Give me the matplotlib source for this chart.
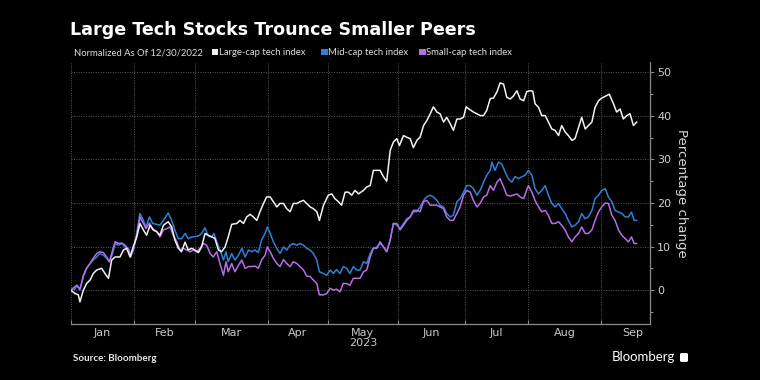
import matplotlib
matplotlib.use("Agg")
import matplotlib.pyplot as plt
from matplotlib.patches import Rectangle, FancyBboxPatch
from matplotlib.ticker import FixedLocator, MultipleLocator

# ---------------- data (x = trading days since 2022-12-30) ----------------
large_day = [0, 1.35, 2.4, 2.9, 4.0, 5.0, 6.1, 7.1, 8.2, 9.75, 10.8, 11.9, 12.9, 14.0, 15.5, 16.6, 17.6, 18.7,
             19.7, 20.8, 21.8, 22.9, 23.9, 25.0, 26.0, 27.1, 28.1, 29.2, 30.7, 31.8, 32.8, 33.9, 34.9, 36.0,
             37.0, 38.1, 39.1, 40.2, 41.2, 42.3, 43.3, 44.4, 45.4, 46.5, 47.5, 48.6, 49.6, 50.7, 52.3, 53.3,
             54.4, 55.4, 56.5, 57.5, 58.6, 59.6, 60.7, 61.7, 62.8, 63.8, 64.9, 65.9, 67.0, 68.0, 69.1, 70.1,
             71.2, 72.2, 73.3, 74.3, 75.4, 76.4, 77.5, 78.3, 79.6, 81.1, 82.2, 83.2, 84.3, 85.3, 86.4, 87.4,
             88.5, 89.5, 90.6, 92.2, 93.2, 94.3, 95.3, 96.4, 97.4, 98.5, 99.5, 100.6, 101.6, 102.7, 103.5,
             104.8, 105.8, 106.9, 107.9, 109.0, 110.0, 111.1, 112.1, 113.2, 114.2, 115.3, 116.3, 117.4, 118.4,
             119.5, 120.5, 121.6, 122.6, 123.7, 124.5, 125.8, 126.8, 127.9, 128.9, 130.0, 131.0, 132.1, 133.1,
             134.2, 135.2, 136.3, 137.3, 138.4, 139.4, 140.5, 141.5, 142.6, 143.6, 144.6, 145.5, 146.2, 147.3,
             148.3, 149.4, 150.4, 151.5, 152.5, 153.6, 154.6, 155.7, 156.7, 157.8, 158.8, 159.9, 160.9, 162.0,
             163.0, 164.1, 165.1, 166.2, 167.2, 168.8, 169.6, 170.9, 171.9, 173.0, 174.0, 175.1, 176.1, 177.2,
             178.2]
large_val = [0, -0.8, -1.1, -2.7, 0, 1.5, 2.3, 3.8, 4.6, 5.0, 3.8, 2.7, 6.9, 7.6, 7.6, 9.2, 9.6, 7.6,
             10.0, 12.2, 15.3, 13.8, 12.6, 14.9, 13.8, 13.4, 12.6, 14.9, 15.7, 14.5, 11.5, 9.6, 8.8, 11.0,
             9.2, 9.6, 9.2, 8.6, 9.9, 13.0, 12.6, 12.2, 11.9, 9.2, 8.8, 9.9, 12.2, 15.1, 15.3, 16.0,
             15.3, 16.8, 17.4, 16.8, 16.0, 18.0, 19.9, 21.4, 21.4, 20.3, 19.1, 19.9, 19.9, 18.7, 18.0, 19.9,
             19.9, 20.3, 20.6, 19.9, 19.1, 18.7, 18.0, 16.0, 19.5, 21.8, 22.1, 21.0, 20.3, 19.5, 22.5, 22.5,
             21.8, 22.9, 22.1, 22.9, 23.7, 24.0, 27.5, 27.5, 27.5, 26.0, 25.0, 32.1, 34.0, 34.8, 33.2,
             35.5, 35.1, 34.8, 32.7, 34.4, 35.1, 37.8, 38.9, 40.5, 42.1, 40.9, 40.5, 38.6, 39.7,
             38.2, 36.7, 39.3, 39.3, 39.7, 42.1, 41.4, 40.9, 40.5, 40.1, 40.1, 41.3, 44.0, 44.1,
             45.5, 47.6, 47.3, 44.3, 43.9, 44.6, 45.8, 43.9, 43.5, 45.6, 45.8, 45.7, 42.8, 42.0,
             40.1, 40.1, 38.6, 37.0, 36.7, 35.5, 37.8, 36.3, 35.5, 34.4, 34.8, 37.4, 39.7, 37.0,
             37.8, 38.6, 42.0, 43.5, 44.1, 44.7, 45.0, 42.8, 40.9, 41.6, 39.3, 40.1, 40.5, 37.8,
             38.6]

mid_day = [0, 1.35, 1.9, 2.9, 4.0, 5.0, 6.1, 7.1, 8.2, 9.2, 10.3, 11.3, 12.2, 13.2, 14.0, 15.0, 16.1, 17.1,
           18.2, 18.9, 19.7, 20.8, 21.8, 22.9, 23.7, 24.8, 25.8, 27.1, 28.1, 29.2, 30.7, 31.8, 32.8, 33.9,
           34.9, 36.0, 37.0, 38.1, 39.1, 40.2, 41.2, 42.3, 43.3, 44.4, 45.1, 46.0, 47.0, 48.1, 48.9, 49.6,
           50.7, 51.7, 52.8, 53.9, 54.9, 56.0, 57.0, 58.0, 59.1, 60.1, 61.2, 61.9, 62.8, 63.8, 64.9, 65.9,
           67.0, 68.0, 69.1, 70.1, 71.2, 72.2, 73.3, 74.3, 75.4, 76.4, 77.5, 78.3, 79.6, 80.6, 81.7, 82.7,
           83.7, 84.8, 85.8, 86.9, 87.9, 89.0, 90.0, 91.1, 92.2, 93.2, 94.3, 95.3, 96.4, 97.4, 98.5, 99.5,
           100.6, 101.6, 102.7, 103.7, 104.8, 105.8, 106.9, 107.9, 109.0, 110.0, 111.1, 112.1, 113.2, 114.2,
           115.3, 116.3, 117.4, 118.4, 119.5, 120.5, 121.6, 122.6, 123.7, 124.7, 125.8, 126.8, 127.9, 128.9,
           130.0, 131.0, 132.1, 132.6, 133.6, 134.7, 135.7, 136.8, 137.8, 138.9, 139.9, 141.0, 142.0, 143.1,
           144.1, 145.2, 146.2, 147.3, 148.3, 149.4, 150.4, 151.5, 152.5, 153.6, 154.6, 155.7, 156.7, 157.8,
           158.8, 159.9, 160.9, 162.0, 163.0, 164.1, 165.1, 166.2, 167.2, 168.3, 169.3, 170.4, 171.4, 172.5,
           173.5, 174.6, 175.6, 176.6, 177.4, 178.2]
mid_val = [0, 0.2, 1.1, 0, 3.1, 5.0, 6.1, 6.9, 7.6, 8.4, 8.0, 7.3, 6.5, 8.4, 10.7, 10.3, 10.7, 9.9,
           9.6, 8.0, 9.2, 13.0, 17.6, 16.0, 14.5, 16.8, 15.3, 15.1, 14.9, 16.0, 17.7, 16.0, 13.8, 11.8,
           11.8, 13.0, 11.8, 12.2, 12.3, 12.4, 13.0, 14.3, 12.4, 12.2, 13.0, 11.1, 9.2, 6.9, 8.8, 6.5,
           8.4, 6.9, 8.0, 9.6, 7.6, 9.2, 8.8, 9.2, 8.6, 11.5, 13.0, 14.5, 13.0, 11.1, 9.6, 8.4,
           9.9, 9.2, 10.3, 10.7, 10.3, 10.7, 10.3, 9.6, 9.2, 8.4, 6.9, 4.2, 3.8, 3.4, 4.6, 3.8,
           4.7, 3.8, 5.4, 5.0, 3.8, 5.4, 4.6, 4.6, 6.5, 6.1, 8.4, 9.6, 9.9, 10.7, 9.9, 8.8,
           11.5, 15.3, 14.9, 14.1, 15.3, 16.4, 16.8, 18.0, 18.0, 19.1, 20.6, 21.4, 21.8, 21.4,
           20.6, 19.5, 19.1, 17.6, 16.8, 17.2, 20.3, 21.0, 22.5, 24.0, 24.0, 23.3, 21.8, 22.9,
           24.8, 26.4, 27.5, 29.4, 27.5, 29.4, 29.0, 27.1, 25.6, 24.8, 26.1, 25.6, 26.0, 26.4,
           27.5, 26.4, 23.3, 22.1, 22.9, 24.0, 21.8, 19.9, 19.1, 19.9, 18.7, 17.6, 16.0, 14.5,
           14.9, 15.7, 17.6, 16.4, 16.8, 18.3, 21.0, 21.8, 22.9, 23.3, 21.4, 20.3, 18.3, 17.9,
           17.6, 16.8, 16.8, 17.9, 16.0, 16.0]

small_day = [0, 1.35, 1.9, 2.9, 4.0, 5.0, 6.1, 7.1, 8.2, 9.2, 10.3, 11.3, 12.2, 13.2, 14.0, 15.0, 16.1, 17.1,
             18.2, 18.9, 19.7, 20.8, 21.8, 22.9, 23.7, 24.8, 25.8, 27.1, 28.1, 29.2, 30.2, 31.3, 32.3, 33.4,
             34.4, 35.5, 36.5, 37.6, 38.6, 39.7, 40.7, 41.8, 42.8, 43.9, 44.9, 46.0, 47.0, 48.1, 48.9, 49.6,
             50.7, 51.7, 52.8, 53.9, 54.9, 56.0, 57.0, 58.0, 59.1, 60.1, 61.2, 61.9, 62.8, 63.8, 64.9, 65.9,
             67.0, 68.0, 69.1, 70.1, 71.2, 72.2, 73.3, 74.3, 75.4, 76.4, 77.5, 78.3, 79.6, 80.6, 81.7, 82.7,
             83.7, 84.8, 85.8, 86.9, 87.9, 89.0, 90.0, 91.1, 92.2, 93.2, 94.3, 95.3, 96.4, 97.4, 98.5, 99.5,
             100.6, 101.6, 102.7, 103.7, 104.8, 105.8, 106.9, 107.9, 109.0, 110.0, 111.1, 112.1, 113.2, 114.2,
             115.3, 116.3, 117.4, 118.4, 119.5, 120.5, 121.6, 122.6, 123.7, 124.7, 125.8, 126.8, 127.9, 128.9,
             130.0, 131.0, 132.1, 133.1, 134.2, 135.2, 136.3, 137.3, 138.4, 139.4, 140.5, 141.5, 142.6, 144.1,
             145.2, 146.2, 147.3, 148.3, 149.4, 150.4, 151.5, 152.5, 153.6, 154.6, 155.7, 156.7, 157.8, 158.8,
             159.9, 160.9, 162.0, 163.0, 164.1, 165.1, 166.2, 167.2, 168.3, 169.3, 170.4, 171.4, 172.5, 173.5,
             174.6, 175.6, 176.6, 177.4, 178.2]
small_val = [0, 0.8, 1.1, 0.2, 3.4, 5.0, 6.1, 7.3, 8.4, 8.8, 8.6, 7.6, 6.5, 9.2, 11.1, 10.7, 10.8, 10.3,
             9.2, 7.6, 9.2, 12.6, 16.8, 15.3, 14.1, 15.4, 14.1, 13.4, 12.2, 13.8, 14.1, 14.5, 12.6, 11.1,
             9.2, 9.6, 9.2, 8.8, 9.2, 8.8, 9.6, 10.7, 10.3, 8.4, 7.6, 8.8, 6.1, 3.4, 6.5, 4.2,
             6.1, 4.2, 5.7, 6.9, 5.0, 5.4, 5.4, 5.5, 5.0, 6.9, 8.0, 9.9, 8.8, 7.3, 6.1, 5.4,
             7.0, 6.1, 5.4, 6.5, 6.1, 5.4, 4.6, 3.2, 3.1, 2.3, 1.5, -1.1, -1.1, -0.8, 0.4, 0.0,
             0.2, -0.4, 1.5, 1.5, 1.1, 2.7, 2.7, 2.7, 4.2, 4.6, 7.6, 9.6, 9.6, 11.1, 9.9, 8.8,
             11.5, 15.3, 15.3, 13.8, 14.9, 16.0, 16.8, 18.3, 18.3, 18.0, 20.3, 20.6, 19.5, 19.5,
             19.5, 19.1, 18.7, 16.8, 16.0, 16.0, 17.6, 19.1, 21.8, 22.9, 22.5, 20.6, 19.1, 19.9,
             21.4, 21.8, 24.0, 22.9, 24.8, 25.6, 23.7, 21.8, 21.6, 21.8, 22.1, 21.4, 21.0, 24.0,
             22.5, 20.6, 19.1, 18.0, 18.3, 17.2, 15.3, 15.3, 15.7, 14.9, 13.8, 12.2, 11.1, 12.2,
             13.0, 14.5, 13.0, 13.0, 13.8, 16.0, 18.0, 19.1, 20.0, 19.9, 17.2, 16.0, 13.8, 12.6,
             11.8, 11.1, 12.2, 10.7, 10.7]

# month boundaries (trading-day index of last session of previous month) and labels
month_edges = [0, 20, 39, 62, 81, 103, 124, 144, 167, 187]
month_labels = ["Jan", "Feb", "Mar", "Apr", "May", "Jun", "Jul", "Aug", "Sep"]
year_label = "2023"
y_ticks = [0, 10, 20, 30, 40, 50]

series_names = ["Large-cap tech index", "Mid-cap tech index", "Small-cap tech index"]
colors = ["#f2f2f2", "#2e80d8", "#b86ee6"]

title = "Large Tech Stocks Trounce Smaller Peers"
subtitle = "Normalized As Of 12/30/2022"
source = "Source: Bloomberg"

# ---------------- figure ----------------
W, H = 760, 380
fig = plt.figure(figsize=(W / 100, H / 100), dpi=100, facecolor="black")
ax = fig.add_axes([70.7 / W, 1 - 324 / H, (650 - 70.7) / W, (324 - 62) / H], facecolor="black")

ax.plot(large_day, large_val, color=colors[0], lw=1.1, zorder=4)
ax.plot(mid_day, mid_val, color=colors[1], lw=1.1, zorder=3)
ax.plot(small_day, small_val, color=colors[2], lw=1.1, zorder=3)

ax.set_xlim(0, 182.4)
ax.set_ylim(-7.8, 52.4)

for s in ["left", "top"]:
    ax.spines[s].set_visible(False)
for s in ["right", "bottom"]:
    ax.spines[s].set_color("#8a8a8a")
    ax.spines[s].set_linewidth(0.9)

# y axis on right
ax.yaxis.tick_right()
ax.yaxis.set_label_position("right")
ax.set_yticks(y_ticks)
ax.yaxis.set_minor_locator(MultipleLocator(5))
ax.tick_params(axis="y", which="major", colors="#8a8a8a", labelcolor="#d0d0d0",
               labelsize=8, length=3, width=0.8, pad=2)
ax.tick_params(axis="y", which="minor", colors="#8a8a8a", length=2, width=0.8)
ax.set_ylabel("Percentage change", color="#d8d8d8", fontsize=9.5, rotation=270,
              labelpad=12)

# x axis
ax.set_xticks(month_edges[:-1])
ax.set_xticklabels([])
mids = [(a + b) / 2 for a, b in zip(month_edges[:-1], month_edges[1:])]
mids[-1] = month_edges[-2] + 10
ax.xaxis.set_minor_locator(FixedLocator(mids))
ax.set_xticklabels(month_labels, minor=True)
ax.tick_params(axis="x", which="major", colors="#8a8a8a", direction="in", length=3, width=0.8)
ax.tick_params(axis="x", which="minor", length=0, labelcolor="#c8c8c8", labelsize=8, pad=3)
for lab in ax.get_xticklabels(minor=True):
    lab.set_clip_on(False)
ax.text(mids[4], -19.0 / 262, year_label, transform=ax.get_xaxis_transform(),
        ha="center", va="center", color="#c8c8c8", fontsize=8)

# grid
ax.grid(True, which="major", color="#5a5a5a", linestyle=(0, (1, 1.5)), linewidth=0.7)
ax.set_axisbelow(True)

# ---------------- text ----------------
fig.text(70 / W, 1 - 35 / H, title, color="white", fontsize=12.6, fontweight="bold",
         family=["DejaVu Sans"], va="baseline", ha="left")
fig.text(74 / W, 1 - 55 / H, subtitle, color="#dcdcdc", fontsize=6.8,
         family=["Lato", "DejaVu Sans"], va="baseline", ha="left")
sq_x = [212, 321, 419]
for x0, name, c in zip(sq_x, series_names, colors):
    fig.patches.append(Rectangle((x0 / W, 1 - 55 / H), 6.5 / W, 6.5 / H, transform=fig.transFigure,
                                 facecolor=c, edgecolor="none"))
    fig.text((x0 + 7) / W, 1 - 55 / H, name, color="#dcdcdc", fontsize=6.8,
             family=["Lato", "DejaVu Sans"], va="baseline", ha="left")

fig.text(73 / W, 1 - 361 / H, source, color="#e8e8e8", fontsize=7, fontweight="bold",
         family=["Lato", "DejaVu Sans"], va="baseline", ha="left")
fig.text(675 / W, 1 - 361 / H, "Bloomberg", color="white", fontsize=9.5,
         family=["Lato", "DejaVu Sans"], va="baseline", ha="right")
fig.patches.append(FancyBboxPatch((680 / W, 1 - 362 / H), 8 / W, 9 / H,
                                  boxstyle="round,pad=0,rounding_size=0.003",
                                  transform=fig.transFigure, facecolor="white", edgecolor="none"))

fig.savefig("out.png", dpi=100, facecolor="black")
